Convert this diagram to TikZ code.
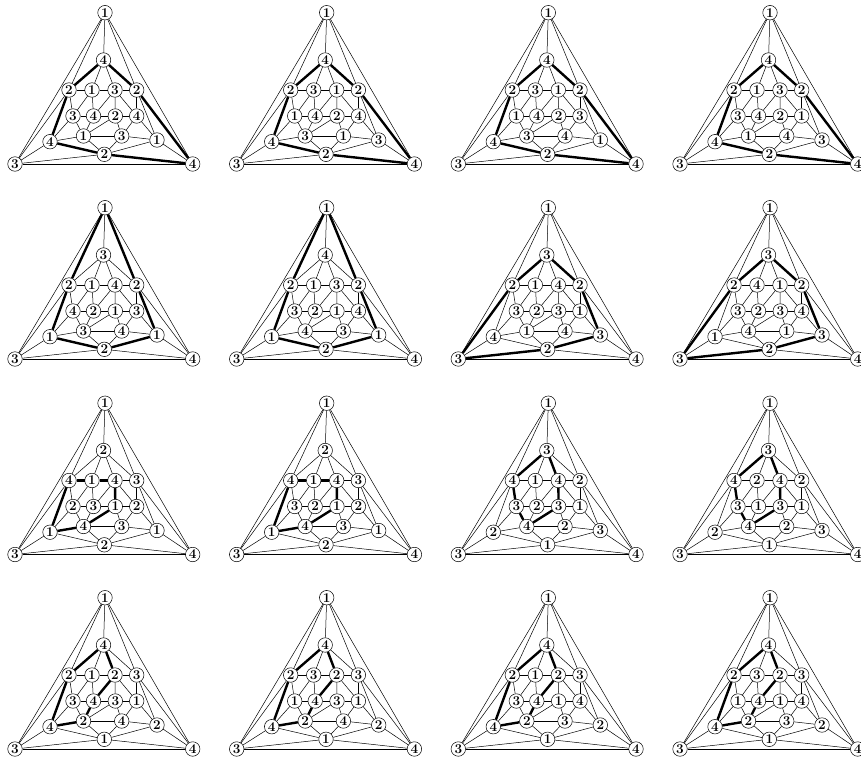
\documentclass[tikz,border=0pt]{standalone}
\tikzset{
  vtx/.style={circle,draw,line width=0.5pt,fill=white,inner sep=0pt,minimum size=14.5pt,
    font=\fontsize{13.5}{13.5}\selectfont\bfseries},
  thinedge/.style={line width=0.5pt},
  kempe/.style={line width=2.4pt},
}
\newcommand\vertexlist{T/105/12.7, A/103.5/60, B1/69/90, B2/92/90, B3/115/90, B4/136.7/90,
  C1/73/116, C2/93.5/116, C3/115.3/116, C4/136.7/116,
  D1/50/141.7, D2/83.5/136, D3/121.7/136, D4/157/140,
  E/104.3/154.3, L/15/164, R/192.7/164}
\newcommand\edgelist{T/L, T/R, L/R, T/A, T/B1, T/B4, L/B1, L/D1, L/E, R/B4, R/D4, R/E,
  A/B1, B1/D1, D1/E, E/D4, D4/B4, B4/A,
  A/B2, A/B3, B1/B2, B2/B3, B3/B4, B1/C1, B4/C4, B2/C2, B3/C3, C1/C2, C2/C3, C3/C4,
  C1/D1, C1/D2, C2/D2, C3/D3, C4/D3, C4/D4, D1/D2, D2/D3, D2/E, D3/E, D3/D4,
  B2/C1, B3/C4, B3/C2, C3/D2}
\newcommand\errerapanel[4]{%
  \begin{scope}[shift={(#2)}]
    \foreach \nm/\px/\py [count=\i from 0] in \vertexlist {
      \pgfmathtruncatemacro\lab{{#3}[\i]}
      \node[vtx] (#1\nm) at (\px,\py) {\lab};
    }
    \foreach \a/\b in \edgelist { \draw[thinedge] (#1\a) -- (#1\b); }
    \foreach \a/\b in #4 { \draw[kempe] (#1\a) -- (#1\b); }
  \end{scope}}
\newcommand\kA{B4/R, A/B4, A/B1, B1/D1, D1/E, E/R}
\newcommand\kB{T/B1, B1/D1, D1/E, E/D4, D4/B4, B4/T}
\newcommand\kC{L/B1, B1/A, A/B4, B4/D4, D4/E, E/L}
\newcommand\kD{B1/B2, B2/B3, B3/C3, C3/D2, D2/D1, D1/B1}
\newcommand\kE{A/B1, B1/C1, C1/D2, D2/C3, C3/B3, B3/A}
\newcommand\kF{A/B1, B1/D1, D1/D2, D2/C2, C2/B3, B3/A}
\begin{document}
\begin{tikzpicture}[x=1pt,y=-1pt]
  \useasboundingbox (0,0) rectangle (861,765);
  \clip (0,0) rectangle (861,765);
  % row 1
  \errerapanel{pa}{0,0}{1,4,2,1,3,2,3,4,2,4,4,1,3,1,2,3,4}{\kA}
  \errerapanel{pb}{221.7,0}{1,4,2,3,1,2,1,4,2,4,4,3,1,3,2,3,4}{\kA}
  \errerapanel{pc}{443.3,0}{1,4,2,3,1,2,1,4,2,3,4,3,4,1,2,3,4}{\kA}
  \errerapanel{pd}{665,0}{1,4,2,1,3,2,3,4,2,1,4,1,4,3,2,3,4}{\kA}
  % row 2
  \errerapanel{pe}{0,195}{1,3,2,1,4,2,4,2,1,3,1,3,4,1,2,3,4}{\kB}
  \errerapanel{pf}{221.7,195}{1,4,2,1,3,2,3,2,1,4,1,4,3,1,2,3,4}{\kB}
  \errerapanel{pg}{443.3,195}{1,3,2,1,4,2,3,2,3,1,4,1,4,3,2,3,4}{\kC}
  \errerapanel{ph}{665,195}{1,3,2,4,1,2,3,2,3,4,1,4,1,3,2,3,4}{\kC}
  % row 3
  \errerapanel{pi}{0,390.5}{1,2,4,1,4,3,2,3,1,2,1,4,3,1,2,3,4}{\kD}
  \errerapanel{pj}{221.7,390.5}{1,2,4,1,4,3,3,2,1,2,1,4,3,1,2,3,4}{\kD}
  \errerapanel{pk}{443.3,390.5}{1,3,4,1,4,2,3,2,3,1,2,4,2,3,1,3,4}{\kE}
  \errerapanel{pl}{665,390.5}{1,3,4,2,4,2,3,1,3,1,2,4,2,3,1,3,4}{\kE}
  % row 4
  \errerapanel{pm}{0,585}{1,4,2,1,2,3,3,4,3,1,4,2,4,2,1,3,4}{\kF}
  \errerapanel{pn}{221.7,585}{1,4,2,3,2,3,1,4,3,1,4,2,4,2,1,3,4}{\kF}
  \errerapanel{po}{443.3,585}{1,4,2,1,2,3,3,4,1,4,4,2,3,2,1,3,4}{\kF}
  \errerapanel{pp}{665,585}{1,4,2,3,2,3,1,4,1,4,4,2,3,2,1,3,4}{\kF}
\end{tikzpicture}
\end{document}
